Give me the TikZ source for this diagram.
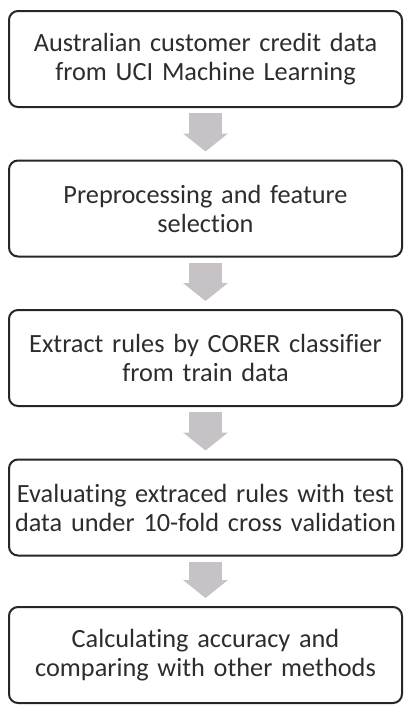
\documentclass[tikz,border=0pt]{standalone}
\usepackage{xcolor}
\usepackage{fontspec}
\setmainfont{Carlito}[Ligatures=NoCommon]
\usepackage{tikz}
\usetikzlibrary{arrows.meta,positioning}
\definecolor{borderColor}{RGB}{38, 38, 38}
\definecolor{textColor}{RGB}{45, 45, 45}
\definecolor{arrowColor}{RGB}{199, 194, 197}

\begin{document}
\begin{tikzpicture}[x=1pt, y=1pt,
    stepbox/.style={draw=borderColor, line width=2pt, rounded corners=9pt,
        minimum width=393pt, minimum height=96pt, inner sep=0pt,
        text width=390pt, align=center, text=textColor,
        font=\fontsize{26.3}{29}\selectfont},
    flowarrow/.style={draw=arrowColor, line width=33pt,
        -{Triangle[width=44pt, length=18pt]},
        shorten <=5pt, shorten >=8pt}]
            % Page frame
            \useasboundingbox (0,0) rectangle (405,-705);

            % Data source
            \node[stepbox] (source) at (205.5,-59) {
                Australian customer credit data\\from UCI Machine Learning
            };

            % Preprocessing
            \node[stepbox] (prep) at (205.5,-208.5) {
                Preprocessing and feature\\selection
            };

            % Rule extraction
            \node[stepbox] (rules) at (205.5,-358) {
                Extract rules by CORER classifier\\from train data
            };

            % Evaluation
            \node[stepbox] (evaluate) at (205.5,-507.5) {
                Evaluating extraced rules with test\\data under 10-fold cross validation
            };

            % Comparison
            \node[stepbox] (compare) at (205.5,-655) {
                Calculating accuracy and\\comparing with other methods
            };

            % Block arrows between the steps
            \draw[flowarrow] (source) -- (prep);
            \draw[flowarrow] (prep) -- (rules);
            \draw[flowarrow] (rules) -- (evaluate);
            \draw[flowarrow] (evaluate) -- (compare);
        \end{tikzpicture}
\end{document}
